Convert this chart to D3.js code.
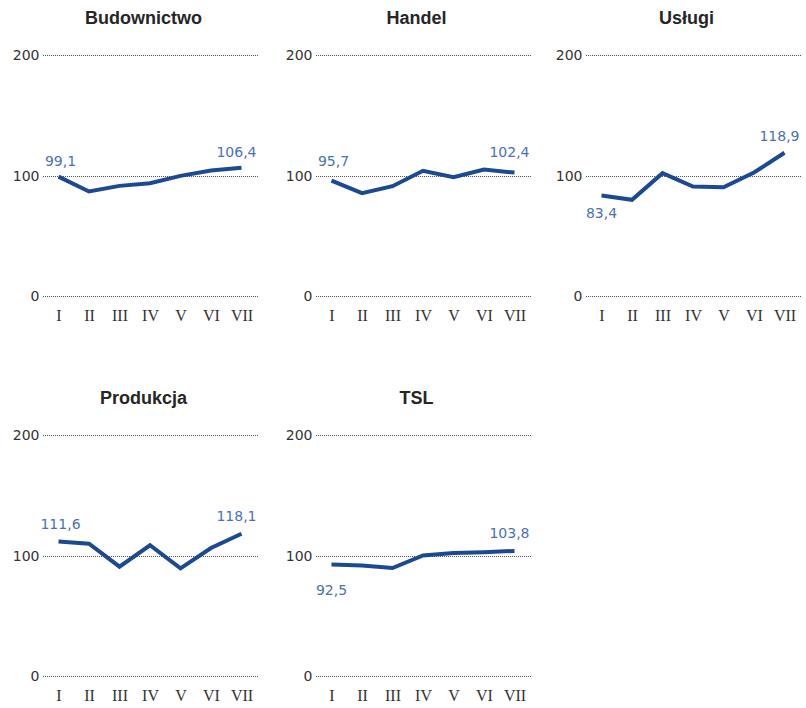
<!DOCTYPE html>
<html>
<head>
<meta charset="utf-8">
<script src="https://cdn.jsdelivr.net/npm/d3@7"></script>
<style>
  html, body { margin: 0; padding: 0; background: #fff; }
  svg { display: block; }
</style>
</head>
<body>
<svg id="chart" width="806" height="708"></svg>
<script>
// Months (Roman numerals) shared by all panels
const months = ["I", "II", "III", "IV", "V", "VI", "VII"];
const yTicks = [0, 100, 200];

// Index values per sector, months I–VII
const budownictwo = [99.1, 86.7, 91.4, 93.6, 99.7, 104.2, 106.4];
const handel      = [95.7, 85.3, 91.1, 103.9, 98.6, 105.0, 102.4];
const uslugi      = [83.4, 79.8, 101.9, 90.9, 90.3, 102.5, 118.9];
const produkcja   = [111.6, 109.8, 90.7, 108.5, 89.3, 106.2, 118.1];
const tsl         = [92.5, 91.6, 89.6, 100.0, 102.0, 102.8, 103.8];

const titles = ["Budownictwo", "Handel", "Usługi", "Produkcja", "TSL"];
const series = [budownictwo, handel, uslugi, produkcja, tsl];

// Panel placement and label nudges (layout only)
const layout = [
  { ox: 0,   oy: 0,   firstDy: -11, firstBelow: false, lastDy: -11 },
  { ox: 273, oy: 0,   firstDy: -15, firstBelow: false, lastDy: -16 },
  { ox: 543, oy: 0,   firstDy: 22,  firstBelow: true,  lastDy: -12 },
  { ox: 0,   oy: 380, firstDy: -13, firstBelow: false, lastDy: -12.5 },
  { ox: 273, oy: 380, firstDy: 30,  firstBelow: true,  lastDy: -13 }
];

const svg = d3.select("#chart");

const gridX0 = 43, gridX1 = 258;
const x = d3.scalePoint().domain(months).range([58.5, 241.5]);
const y = d3.scaleLinear().domain([0, 200]).range([296, 55]);

const line = d3.line()
  .x((d, i) => x(months[i]))
  .y(d => y(d));

const fmt = v => d3.format(".1f")(v).replace(".", ",");

series.forEach((vals, k) => {
  const L = layout[k];
  const g = svg.append("g").attr("transform", `translate(${L.ox},${L.oy})`);

  // Title
  g.append("text")
    .attr("x", (gridX0 + gridX1) / 2 - 7)
    .attr("y", 24)
    .attr("text-anchor", "middle")
    .attr("font-family", "Liberation Sans, Arial, sans-serif")
    .attr("font-weight", "bold")
    .attr("font-size", 18)
    .attr("fill", "#262626")
    .text(titles[k]);

  // Dotted gridlines with value labels
  const yAxis = d3.axisLeft(y).tickValues(yTicks).tickSize(0).tickPadding(0);
  const ya = g.append("g").attr("transform", `translate(${gridX0},0)`).call(yAxis);
  ya.select(".domain").remove();
  ya.selectAll(".tick")
    .attr("transform", d => `translate(0,${Math.round(y(d)) + 0.5})`);
  ya.selectAll(".tick line")
    .attr("x1", 0).attr("x2", gridX1 - gridX0)
    .attr("stroke", "#555")
    .attr("stroke-width", 1)
    .attr("stroke-dasharray", "1,1")
    .attr("shape-rendering", "crispEdges");
  ya.selectAll(".tick text")
    .attr("x", -3.5)
    .attr("font-family", "DejaVu Sans, sans-serif")
    .attr("font-size", 14)
    .attr("fill", "#333");

  // Month labels
  const xAxis = d3.axisBottom(x).tickSize(0).tickPadding(0);
  const xa = g.append("g").attr("transform", `translate(0,296)`).call(xAxis);
  xa.select(".domain").remove();
  xa.selectAll(".tick text")
    .attr("y", 25)
    .attr("dy", 0)
    .attr("font-family", "Liberation Serif, serif")
    .attr("font-size", 16)
    .attr("fill", "#333");

  // Series line
  g.append("path")
    .datum(vals)
    .attr("d", line)
    .attr("fill", "none")
    .attr("stroke", "#1b4a93")
    .attr("stroke-width", 4)
    .attr("stroke-linejoin", "miter");

  // First and last value labels
  const n = vals.length;
  g.append("text")
    .attr("x", x(months[0]) + (L.firstBelow ? 0 : 2))
    .attr("y", y(vals[0]) + L.firstDy)
    .attr("text-anchor", "middle")
    .attr("font-family", "DejaVu Sans, sans-serif")
    .attr("font-size", 14)
    .attr("fill", "#4a72b6")
    .text(fmt(vals[0]));
  g.append("text")
    .attr("x", x(months[n - 1]) + 15)
    .attr("y", y(vals[n - 1]) + L.lastDy)
    .attr("text-anchor", "end")
    .attr("font-family", "DejaVu Sans, sans-serif")
    .attr("font-size", 14)
    .attr("fill", "#4a72b6")
    .text(fmt(vals[n - 1]));
});
</script>
</body>
</html>
